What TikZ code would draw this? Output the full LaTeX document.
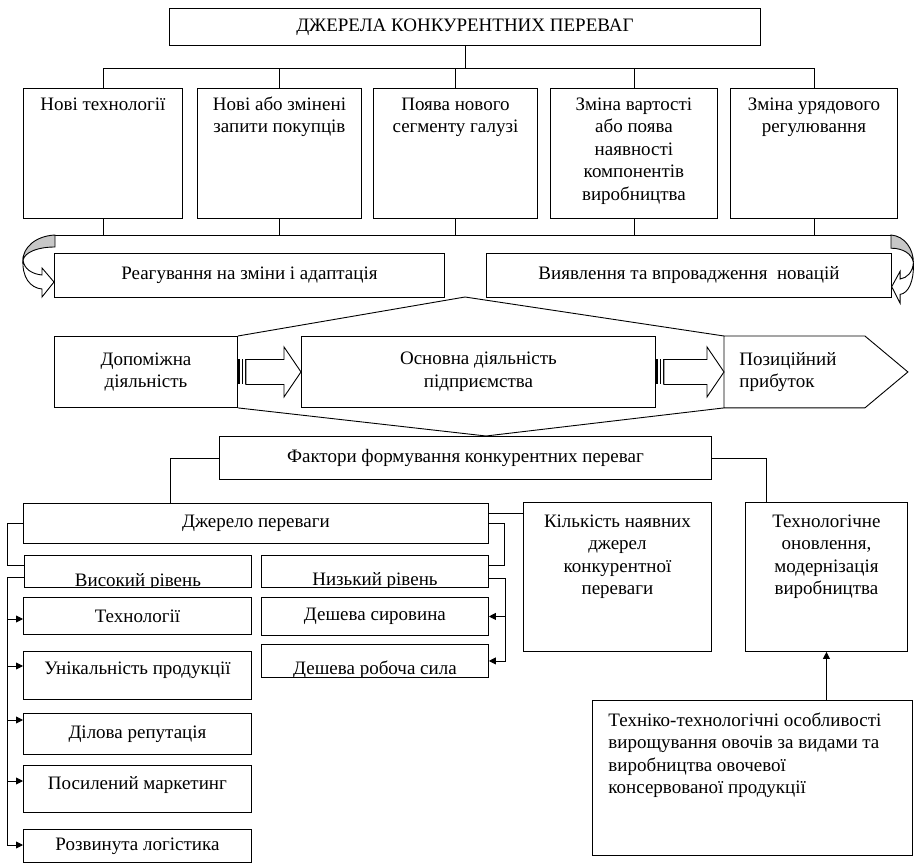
\documentclass[tikz,border=0pt]{standalone}
\usepackage{fontspec}
\setmainfont{Liberation Serif}
\usetikzlibrary{calc,positioning,arrows.meta}
\newcommand{\fs}{\fontsize{19}{22.5}\selectfont}

\tikzset{
  box/.style={draw, fill=white, inner sep=0pt, anchor=north west, font=\fs, align=center},
  lbl/.style={font=\fs, inner sep=0pt, align=center},
  tip/.style={-{Triangle[length=7pt,width=7pt]}},
  curl/.style={draw, fill=black!22},
}

\begin{document}
\begin{tikzpicture}[x=1pt, y=-1pt, line width=.9pt]
\useasboundingbox (0,0) rectangle (914,864);
% Sources of advantage
\node[box, minimum width=591pt, minimum height=37pt] (src) at (169,8) {ДЖЕРЕЛА КОНКУРЕНТНИХ ПЕРЕВАГ};
\node[box, minimum width=159pt, minimum height=130pt, label={[lbl, anchor=north, yshift=-6pt]north:{\strut Нові технології}}] (s1) at (23,88) {};
\node[box, minimum width=164pt, minimum height=130pt, label={[lbl, anchor=north, yshift=-6pt]north:{\strut Нові або змінені\\запити покупців}}] (s2) at (197,88) {};
\node[box, minimum width=164pt, minimum height=130pt, label={[lbl, anchor=north, yshift=-6pt]north:{\strut Поява нового\\сегменту галузі}}] (s3) at (373,88) {};
\node[box, minimum width=167pt, minimum height=130pt, label={[lbl, anchor=north, yshift=-6pt]north:{\strut Зміна вартості\\або поява\\наявності\\компонентів\\виробництва}}] (s4) at (550,88) {};
\node[box, minimum width=167pt, minimum height=130pt, label={[lbl, anchor=north, yshift=-6pt]north:{\strut Зміна урядового\\регулювання}}] (s5) at (730,88) {};
\draw (src.south) -- ++(0,23) coordinate (hub);
\draw (s1.north) |- (hub) -| (s5.north);
\foreach \b in {s2,s3,s4} \draw (\b.north) -- (\b.north |- hub);
% Reaction row
\coordinate (la) at (55,235);
\coordinate (ra) at (891,235);
\draw (la) -- (ra);
\foreach \b in {s1,s2,s3,s4,s5} \draw (\b.south) -- (\b.south |- la);
\node[box, minimum width=390pt, minimum height=44pt] (rea) at (54,253) {Реагування на зміни і адаптація};
\node[box, minimum width=405pt, minimum height=44pt] (vyy) at (486,253) {Виявлення та впровадження~ новацій};
% Curved arrows
\begin{scope}[shift={(la)}]
\draw[curl] (0,0) .. controls (-20,1) and (-32,13) .. (-32,25) .. controls (-30,17) and (-17,12) .. (0,12) -- cycle;
\draw[fill=white] (-32,25) .. controls (-31,34) and (-23,39) .. (-13,40) -- (-13,33) -- (-1,47) -- (-13,62) -- (-13,54) .. controls (-25,53) and (-33,42) .. (-32,25) -- cycle;
\end{scope}
\begin{scope}[shift={(ra)}, xscale=-.7, yscale=1.1]
\draw[curl] (0,0) .. controls (-20,1) and (-32,13) .. (-32,25) .. controls (-30,17) and (-17,12) .. (0,12) -- cycle;
\draw[fill=white] (-32,25) .. controls (-31,34) and (-23,39) .. (-13,40) -- (-13,33) -- (-1,47) -- (-13,62) -- (-13,54) .. controls (-25,53) and (-33,42) .. (-32,25) -- cycle;
\end{scope}
% Value chain
\node[box, minimum width=183pt, minimum height=71pt] (dop) at (54,336) {Допоміжна\\діяльність};
\node[box, minimum width=354pt, minimum height=71pt] (osn) at (301,336) {Основна діяльність\\підприємства};
\node[anchor=north west, minimum width=140pt, minimum height=71pt, inner sep=0pt, inner xsep=15pt, text width=110pt, align=left, font=\fs] (poz) at (724,336) {Позиційний\\прибуток};
\draw (poz.north west) -- (poz.north east) -- ($(poz.east)+(43,0)$) -- (poz.south east) -- (poz.south west) -- cycle;
\coordinate (apx) at (465,297);
\coordinate (bot) at (486,436);
\draw (dop.north east) -- (apx) -- (poz.north west);
\draw (dop.south east) -- (bot) -- (poz.south west);
\foreach \a/\b in {dop/osn, osn/poz} {
  \fill ($(\a.east)+(0,-12.5)$) rectangle ++(2.5,25);
  \fill ($(\a.east)+(4.5,-12.5)$) rectangle ++(1,25);
  \fill ($(\a.east)+(7,-12.5)$) rectangle ++(1,25);
  \draw[fill=white] ($(\a.east)+(8,-12.5)$) -- ($(\b.west)+(-17,-12.5)$) -- ++(0,-12.5) -- (\b.west) -- ++(-17,25) -- ++(0,-12.5) -- ($(\a.east)+(8,12.5)$) -- cycle;
}
% Factors
\node[box, minimum width=492pt, minimum height=43pt] (fak) at (219,436) {Фактори формування конкурентних переваг};
\node[box, minimum width=465pt, minimum height=40pt] (dj) at (23,503) {Джерело переваги};
\node[box, minimum width=227pt, minimum height=32pt, path picture={\node[lbl, anchor=base] (vyst) at ([yshift=1pt]path picture bounding box.south) {Високий рівень};}] (vys) at (24,555) {};
\node[box, minimum width=227pt, minimum height=32pt, path picture={\node[lbl, anchor=base] (nizt) at ([yshift=2pt]path picture bounding box.south) {Низький рівень};}] (niz) at (261,555) {};
\node[box, minimum width=188pt, minimum height=149pt, label={[lbl, anchor=north, yshift=-9pt]north:{\strut Кількість наявних\\джерел\\конкурентної\\переваги}}] (kil) at (523,502) {};
\node[box, minimum width=162pt, minimum height=149pt, label={[lbl, anchor=north, yshift=-9pt]north:{\strut Технологічне\\оновлення,\\модернізація\\виробництва}}] (teh) at (745,502) {};
% High level
\node[box, minimum width=228pt, minimum height=37pt] (tech) at (23,597) {Технології};
\node[box, minimum width=228pt, minimum height=48pt, label={[lbl, anchor=base, yshift=-23pt]north:Унікальність продукції}] (unik) at (23,651) {};
\node[box, minimum width=228pt, minimum height=41pt] (dil) at (23,713) {Ділова репутація};
\node[box, minimum width=228pt, minimum height=47pt, label={[lbl, anchor=base, yshift=-24pt]north:Посилений маркетинг}] (pos) at (23,765) {};
\node[box, minimum width=228pt, minimum height=33pt] (roz) at (23,829) {Розвинута логістика};
% Low level
\node[box, minimum width=227pt, minimum height=38pt] (sir) at (261,597) {Дешева сировина};
\node[box, minimum width=227pt, minimum height=33pt, path picture={\node[lbl, anchor=base] (robt) at ([yshift=3pt]path picture bounding box.south) {Дешева робоча сила};}] (rob) at (261,644) {};
% Vegetables
\node[box, minimum width=320pt, minimum height=155pt, label={[lbl, align=left, anchor=north west, xshift=16pt, yshift=-10pt]north west:{\strut Техніко-технологічні особливості\\вирощування овочів за видами та\\виробництва овочевої\\консервованої продукції}}] (tex) at (592,700) {};
% Connectors
\draw (fak.west) -| ($(dj.north west)+(147,0)$);
\draw (fak.east) -| ($(teh.north west)+(21,0)$);
\draw (dj.west) -- ++(-16,0) |- ($(vys.north west)+(0,10)$);
\draw ($(vys.south west)+(0,-10)$) -- ++(-17,0) coordinate (vl) -- ($(roz.north west)+(-16,16)$);
\foreach \b/\d in {tech/22,unik/15,dil/7,pos/16,roz/16}
  \draw[tip] ($(\b.north west)+(-16,\d)$) -- ($(\b.north west)+(0,\d)$);
\draw ($(dj.north east)+(0,10)$) -- ($(kil.north west)+(0,11)$);
\draw (dj.east) -- ++(16,0) |- ($(niz.north east)+(0,10)$);
\draw ($(niz.south east)+(0,-9)$) -- ++(17,0) coordinate (vr) -- (vr |- rob.east);
\draw[tip] (vr |- sir.east) -- (sir.east);
\draw[tip] (vr |- rob.east) -- (rob.east);
\draw[tip] (teh.south |- tex.north) -- (teh.south);
\end{tikzpicture}
\end{document}
